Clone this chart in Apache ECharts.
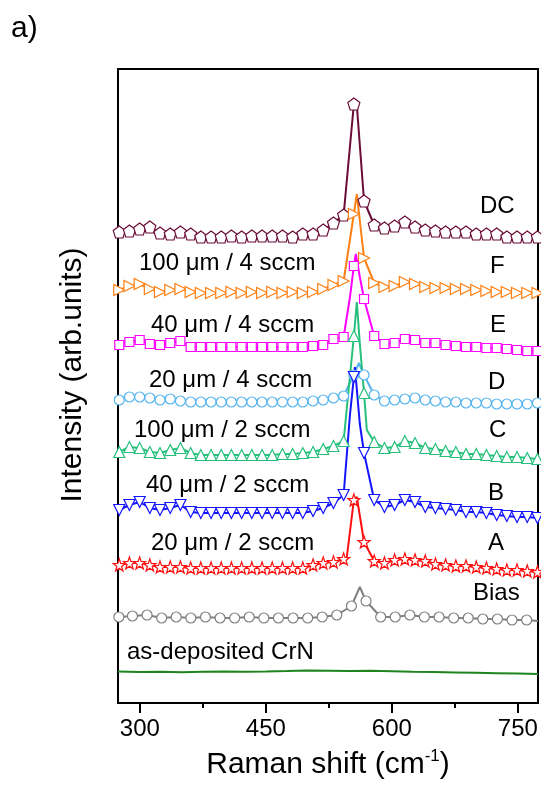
<!DOCTYPE html>
<html>
<head>
<meta charset="utf-8">
<script src="https://cdn.jsdelivr.net/npm/echarts@6/dist/echarts.min.js"></script>
<style>
html,body{margin:0;padding:0;background:#fff;}
#chart{width:541px;height:785px;}
</style>
</head>
<body>
<div id="chart"></div>
<script>
// ---------------- DATA ----------------
// Raman shift (cm-1) of the marked points shared by the spectra
const shiftMarks = [275.5, 287.6, 299.8, 311.9, 324.0, 336.2, 348.3, 360.5, 372.6, 384.8,
  396.9, 409.0, 421.2, 433.3, 445.5, 457.6, 469.8, 481.9, 494.0, 506.2,
  518.3, 530.5, 542.6, 554.8, 566.9, 579.0, 591.2, 603.3, 615.5, 627.6,
  639.8, 651.9, 664.0, 676.2, 688.3, 700.5, 712.6, 724.8, 736.9, 749.0,
  761.2, 773.3];

// Offset intensities (arb. units)
const dcVals = [471, 472, 474, 476, 470, 469, 471, 469, 466, 466, 466, 467, 466, 467, 467, 467, 467, 466, 469, 469,
  473, 480, 488, 599, 502, 478, 475, 477, 481, 476, 473, 472, 471, 471, 471, 469, 469, 469, 466, 466, 466, 466];
const fVals = [413, 417, 419, 414, 411, 413, 414, 411, 410, 410, 410, 411, 410, 411, 410, 411, 410, 411, 410, 411,
  414, 418, 422, 489, 445, 420, 416, 417, 421, 419, 416, 415, 415, 414, 414, 413, 412, 411, 411, 410, 410, 410];
const eVals = [358, 361, 363, 359, 358, 360, 362, 356, 356, 356, 356, 356, 356, 356, 356, 356, 356, 356, 356, 357,
  358, 364, 366, 437, 404, 367, 359, 360, 364, 363, 360, 360, 358, 357, 356, 356, 355, 355, 354, 353, 352, 352];
const dVals = [303, 306, 306, 305, 303, 304, 302, 301, 301, 301, 301, 301, 301, 301, 301, 301, 301, 301, 301, 302,
  303, 305, 307, 328, 328, 308, 302, 303, 304, 305, 303, 302, 301, 301, 300, 300, 300, 299, 299, 299, 299, 300];
const cVals = [251, 256, 255, 251, 250, 253, 255, 250, 248, 248, 248, 248, 248, 248, 248, 248, 249, 249, 250, 251,
  254, 257, 262, 367, 310, 261, 255, 256, 262, 260, 255, 254, 252, 251, 249, 249, 248, 247, 246, 246, 245, 244];
const bVals = [193, 198, 201, 195, 193, 195, 198, 191, 190, 190, 190, 190, 190, 190, 190, 190, 190, 190, 190, 192,
  195, 200, 208, 326, 250, 203, 196, 198, 203, 201, 196, 195, 194, 193, 191, 191, 190, 188, 187, 186, 186, 185];
const aVals = [138, 140, 140, 138, 136, 136, 136, 135, 135, 135, 135, 135, 135, 135, 135, 135, 135, 135, 135, 138,
  140, 141, 144, 203, 161, 142, 140, 143, 144, 143, 142, 139, 138, 137, 137, 136, 135, 134, 133, 133, 132, 131];

// extra (unmarked) points around the main peak
const dcPeakShift = [558.3];              const dcPeakVals = [598];
const fPeakShift = [558.3];               const fPeakVals = [509];
const ePeakShift = [550.0, 557.1, 561.9]; const ePeakVals = [405, 449, 426];
const dPeakShift = [551.2, 560.7];        const dPeakVals = [322, 340];
const cPeakShift = [558.3, 561.9, 570.2]; const cPeakVals = [401, 359, 273];
const bPeakShift = [550.0, 556.0, 561.9]; const bPeakVals = [287, 336, 279];
const aPeakShift = [546.4, 558.3];        const aPeakVals = [146, 206];

// Bias spectrum (own marker spacing)
const biasShift = [275.0, 291.2, 308.6, 326.0, 343.3, 360.7, 378.1, 395.5, 412.9, 430.2,
  447.6, 465.0, 482.4, 499.8, 517.1, 534.5, 551.9, 569.3, 586.7, 604.0,
  621.4, 638.8, 656.2, 673.6, 690.9, 708.3, 725.7, 743.1, 760.5];
const biasVals = [86, 87, 88, 85, 86, 85, 86, 85, 85, 86, 85, 85, 85, 85, 86, 88, 97, 102, 86, 86,
  88, 86, 86, 85, 85, 84, 84, 83, 83];
const biasPeakShift = [561.9, 774.0];     const biasPeakVals = [116, 82];

// as-deposited CrN (plain line)
const crnShift = [274, 300, 325, 350, 375, 400, 425, 450, 475, 500, 525, 550, 575, 600, 625, 650, 675, 700, 725, 750, 774];
const crnVals = [31.5, 31.0, 31.2, 30.8, 31.2, 31.5, 31.3, 31.6, 32.0, 32.5, 32.3, 32.0, 32.2, 31.8, 31.3, 31.0, 30.6, 30.2, 29.8, 29.4, 29.0];

const xTickValues = [300, 450, 600, 750];
const xMinorTickValues = [375, 525, 675];
const rightLabels = ['DC', 'F', 'E', 'D', 'C', 'B', 'A', 'Bias'];
const leftLabels = ['100 μm / 4 sccm', '40 μm / 4 sccm', '20 μm / 4 sccm', '100 μm / 2 sccm',
  '40 μm / 2 sccm', '20 μm / 2 sccm', 'as-deposited CrN'];

// ---------------- LAYOUT / STYLE ----------------
const FONT = '"Liberation Sans", Arial, sans-serif';
const rightLabelPos = [[480, 206], [490, 266], [490, 325], [488, 382], [489, 430], [488, 493], [488, 543], [473, 593]];
const leftLabelPos = [[139, 263], [151, 325], [149, 380], [134, 430], [146, 485], [151, 543], [127, 652]];

const PENTAGON = 'path://M0,-10 L9.51,-3.09 L5.88,8.09 L-5.88,8.09 L-9.51,-3.09 Z';
const STAR = 'path://M0,-10 L2.35,-3.24 L9.51,-3.09 L3.80,1.24 L5.88,8.09 L0,4 L-5.88,8.09 L-3.80,1.24 L-9.51,-3.09 L-2.35,-3.24 Z';

function buildPoints(xs, ys, px, py) {
  const pts = xs.map((x, i) => ({ value: [x, ys[i]] }));
  px.forEach((x, i) => pts.push({ value: [x, py[i]], symbol: 'none' }));
  pts.sort((a, b) => a.value[0] - b.value[0]);
  return pts;
}

function spec(name, data, color, symbol, size, rotate) {
  return {
    name, type: 'line', data,
    symbol, symbolSize: size, symbolRotate: rotate || 0,
    showAllSymbol: true,
    lineStyle: { color, width: 2 },
    itemStyle: { color: '#fff', borderColor: color, borderWidth: 1.2 },
    clip: true, silent: true, animation: false,
    emphasis: { disabled: true }
  };
}

const series = [
  spec('DC', buildPoints(shiftMarks, dcVals, dcPeakShift, dcPeakVals), '#6a0c36', PENTAGON, 12),
  spec('F', buildPoints(shiftMarks, fVals, fPeakShift, fPeakVals), '#ff8014', 'triangle', 11, -90),
  spec('E', buildPoints(shiftMarks, eVals, ePeakShift, ePeakVals), '#ff00ff', 'rect', 9),
  spec('D', buildPoints(shiftMarks, dVals, dPeakShift, dPeakVals), '#55b4ee', 'circle', 10),
  spec('C', buildPoints(shiftMarks, cVals, cPeakShift, cPeakVals), '#26c07c', 'triangle', 11),
  spec('B', buildPoints(shiftMarks, bVals, bPeakShift, bPeakVals), '#1414ff', 'triangle', 11, 180),
  spec('A', buildPoints(shiftMarks, aVals, aPeakShift, aPeakVals), '#ff1010', STAR, 12),
  spec('Bias', buildPoints(biasShift, biasVals, biasPeakShift, biasPeakVals), '#808080', 'circle', 10),
  {
    name: 'as-deposited CrN', type: 'line', data: crnShift.map((x, i) => [x, crnVals[i]]),
    symbol: 'none', lineStyle: { color: '#1e841e', width: 2 }, silent: true, animation: false
  }
];

const graphic = [];
rightLabels.forEach((t, i) => graphic.push({
  type: 'text', x: rightLabelPos[i][0], y: rightLabelPos[i][1], silent: true,
  style: { text: t, font: '24px ' + FONT, fill: '#000', textAlign: 'left', textVerticalAlign: 'middle' }
}));
leftLabels.forEach((t, i) => graphic.push({
  type: 'text', x: leftLabelPos[i][0], y: leftLabelPos[i][1], silent: true,
  style: { text: t, font: '24px ' + FONT, fill: '#000', textAlign: 'left', textVerticalAlign: 'middle' }
}));
graphic.push({
  type: 'text', x: 73, y: 375, rotation: Math.PI / 2, silent: true,
  style: { text: 'Intensity (arb.units)', font: '30px ' + FONT, fill: '#000', textAlign: 'center', textVerticalAlign: 'middle' }
});
graphic.push({
  type: 'text', x: 11, y: 29, silent: true,
  style: { text: 'a)', font: '30px ' + FONT, fill: '#000', textAlign: 'left', textVerticalAlign: 'middle' }
});

const option = {
  backgroundColor: '#fff',
  animation: false,
  grid: { left: 118, top: 69, width: 420, height: 634, show: true, borderColor: '#000', borderWidth: 2, backgroundColor: 'transparent' },
  xAxis: [{
    type: 'value', min: 274, max: 774,
    name: '{n|Raman shift (cm}{s|-1}{n|)}', nameLocation: 'middle', nameGap: 45,
    nameTextStyle: {
      rich: {
        n: { fontSize: 30, fontFamily: FONT, color: '#000', lineHeight: 34 },
        s: { fontSize: 17, fontFamily: FONT, color: '#000', verticalAlign: 'top', lineHeight: 17 }
      }
    },
    axisLine: { show: true, lineStyle: { color: '#000', width: 2 } },
    axisTick: { show: true, inside: false, length: 10, lineStyle: { color: '#000', width: 2 }, customValues: xTickValues },
    axisLabel: { show: true, margin: 14, fontSize: 24, fontFamily: FONT, color: '#000', customValues: xTickValues },
    splitLine: { show: false }
  }, {
    type: 'value', min: 274, max: 774, position: 'bottom', gridIndex: 0,
    axisLine: { show: false },
    axisTick: { show: true, inside: false, length: 5, lineStyle: { color: '#000', width: 2 }, customValues: xMinorTickValues },
    axisLabel: { show: false },
    splitLine: { show: false }
  }],
  yAxis: { type: 'value', min: 0, max: 634, show: false },
  series,
  graphic
};

const chart = echarts.init(document.getElementById('chart'), null, { renderer: 'canvas' });
chart.setOption(option);
</script>
</body>
</html>
